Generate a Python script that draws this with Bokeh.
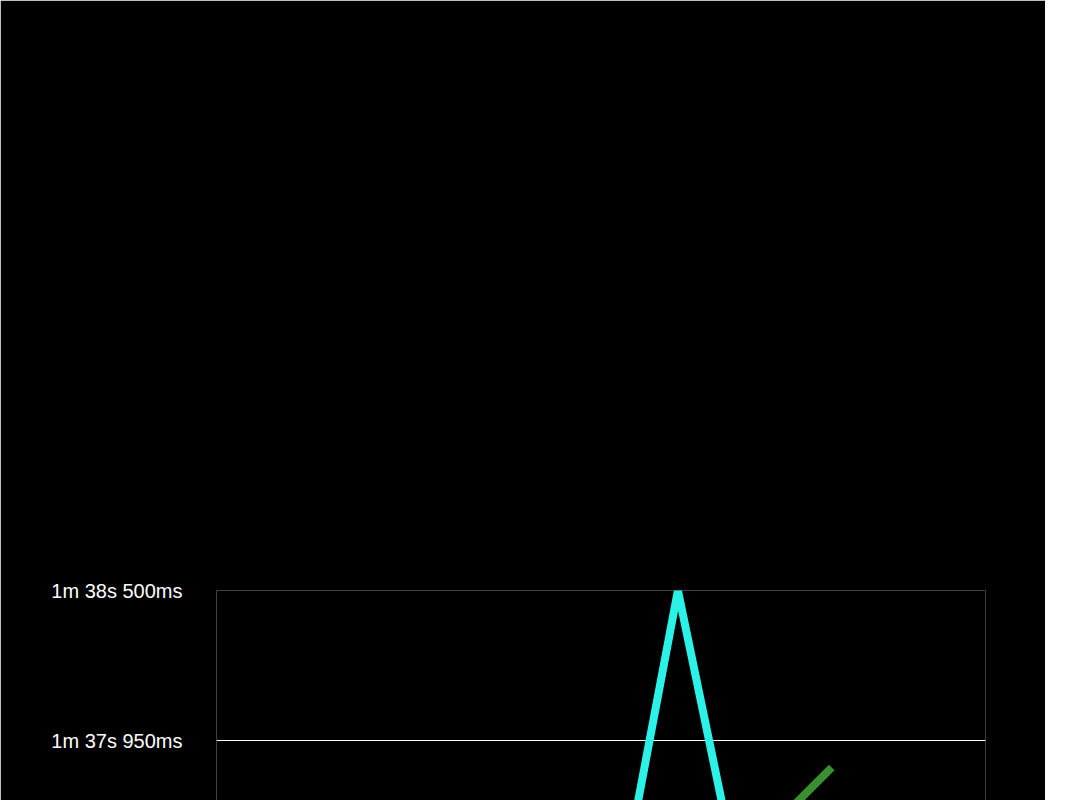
from bokeh.plotting import figure
from bokeh.models import Legend, LegendItem, Range1d, FixedTicker
from bokeh.embed import file_html
from bokeh.resources import INLINE

laps = list(range(1, 12))
LEC = [97.301, 97.264, 96.641, 96.634, 97.055, 97.048, 97.301, 97.272, 97.378, 97.393]
VER = [97.008, 96.722, 96.531, 96.505, 96.637, 96.549, 96.630, 96.736, 96.909, 96.645, 97.037]
HAM = [97.426, 97.015, 96.667, 96.883, 96.868, 97.008, 98.500, 97.143, 97.437, 97.462]
ALO = [96.876, 96.868, 96.839, 97.180, 97.224, 97.609, 97.653, 97.569, 97.851]
NOR = [96.714, 97.290, 97.037, 96.949, 96.901, 97.462, 97.206, 96.942, 97.308, 97.026, 97.151]
yticks = [96.30, 96.85, 97.40, 97.95, 98.50]
ylabels = ["1m 36s 300ms", "1m 36s 850ms", "1m 37s 400ms", "1m 37s 950ms", "1m 38s 500ms"]

p = figure(frame_width=769, frame_height=600, output_backend="svg", toolbar_location=None,
           x_range=Range1d(1, 11), y_range=Range1d(96.3, 98.5),
           background_fill_color="black", border_fill_color="black",
           min_border_left=216, min_border_right=60, min_border_top=0, min_border_bottom=50)
p.outline_line_color = None
p.xgrid.grid_line_color = None
p.ygrid.grid_line_color = "white"
p.ygrid.grid_line_width = 1.2
p.yaxis.ticker = FixedTicker(ticks=yticks)
p.yaxis.major_label_overrides = {t: l for t, l in zip(yticks, ylabels)}
p.xaxis.ticker = FixedTicker(ticks=laps)
for ax in (p.xaxis, p.yaxis):
    ax.major_label_text_color = "white"
    ax.major_label_text_font = "Helvetica"
    ax.major_label_text_font_size = "20px"
    ax.major_tick_line_color = None
    ax.minor_tick_line_color = None
p.yaxis.axis_line_color = None
p.xaxis.axis_line_color = "white"
p.xaxis.axis_line_width = 1.5
p.yaxis.major_label_standoff = 28

series = [("LEC", LEC, "#e8231a"), ("VER", VER, "#0b3fa8"), ("HAM", HAM, "#2af2e6"),
          ("ALO", ALO, "#3a8f2e"), ("NOR", NOR, "#e8a020")]
items = []
for name, vals, col in series:
    r = p.line(laps[:len(vals)], vals, line_color=col, line_width=8, line_join="round")
    items.append(LegendItem(label=name, renderers=[r]))

leg = Legend(items=items, orientation="horizontal", background_fill_color="black",
             border_line_color=None, label_text_color="white", label_text_font_size="20px",
             label_text_font="Helvetica", glyph_width=28, label_width=100, spacing=15,
             margin=45, padding=0, label_standoff=14, location=(-49, 0))
p.add_layout(leg, "above")

open("out.html", "w").write(file_html(p, INLINE))
